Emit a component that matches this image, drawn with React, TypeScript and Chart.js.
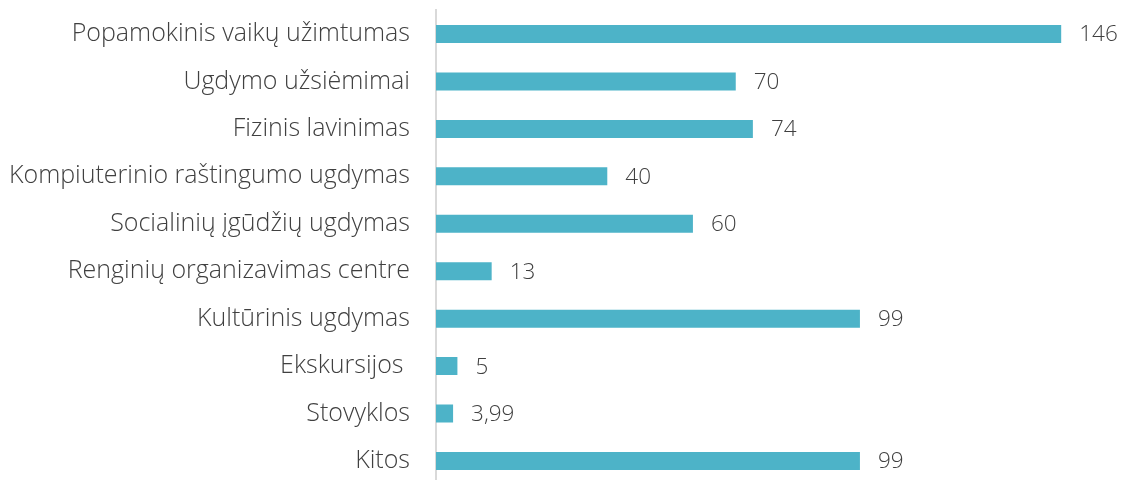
import React, { useEffect, useRef } from "react";
import { Chart, registerables } from "chart.js";

Chart.register(...registerables);

const categories = [
  "Popamokinis vaikų užimtumas",
  "Ugdymo užsiėmimai",
  "Fizinis lavinimas",
  "Kompiuterinio raštingumo ugdymas",
  "Socialinių įgūdžių ugdymas",
  "Renginių organizavimas centre",
  "Kultūrinis ugdymas",
  "Ekskursijos ",
  "Stovyklos",
  "Kitos",
];
const values = [146, 70, 74, 40, 60, 13, 99, 5, 3.99, 99];

const FONT = "'Open Sans', sans-serif";

const valueLabels = {
  id: "valueLabels",
  afterDatasetsDraw(chart: any) {
    const { ctx } = chart;
    const meta = chart.getDatasetMeta(0);
    ctx.save();
    ctx.font = `300 22.5px ${FONT}`;
    ctx.fillStyle = "#404040";
    ctx.textAlign = "left";
    ctx.textBaseline = "middle";
    meta.data.forEach((bar: any, i: number) => {
      const txt = String(values[i]).replace(".", ",");
      ctx.fillText(txt, bar.x + 18, bar.y + 1);
    });
    ctx.restore();
  },
};

export default function App() {
  const ref = useRef<HTMLCanvasElement>(null);
  useEffect(() => {
    document.documentElement.style.overflow = "hidden";
    document.body.style.overflow = "hidden";
    document.body.style.margin = "0";
    const chart = new Chart(ref.current!, {
      type: "bar",
      data: {
        labels: categories,
        datasets: [
          {
            data: values,
            backgroundColor: "#4DB3C8",
            barPercentage: 0.76,
            categoryPercentage: 0.5,
          },
        ],
      },
      options: {
        indexAxis: "y",
        animation: false,
        responsive: false,
        layout: { padding: { top: 2.3, bottom: 3.3, right: 0, left: 0 } },
        plugins: { legend: { display: false }, tooltip: { enabled: false } },
        scales: {
          x: { display: false, min: 0, max: 160.2 },
          y: {
            grid: {
              display: true,
              drawOnChartArea: false,
              drawTicks: true,
              tickLength: 26,
              color: "rgba(0,0,0,0)",
            },
            border: { display: true, color: "#d9d9d9", width: 2 },
            ticks: {
              padding: 0,
              color: "#404040",
              font: { family: FONT, size: 25, weight: 300 },
            },
            afterFit: (s: any) => {
              s.width = 428;
              s.paddingTop = 0;
              s.paddingBottom = 0;
            },
          },
        },
      },
      plugins: [valueLabels],
    });
    return () => chart.destroy();
  }, []);
  return (
    <canvas
      ref={ref}
      width={1114}
      height={480}
      style={{ display: "block", marginLeft: 8, marginTop: 8 }}
    />
  );
}
